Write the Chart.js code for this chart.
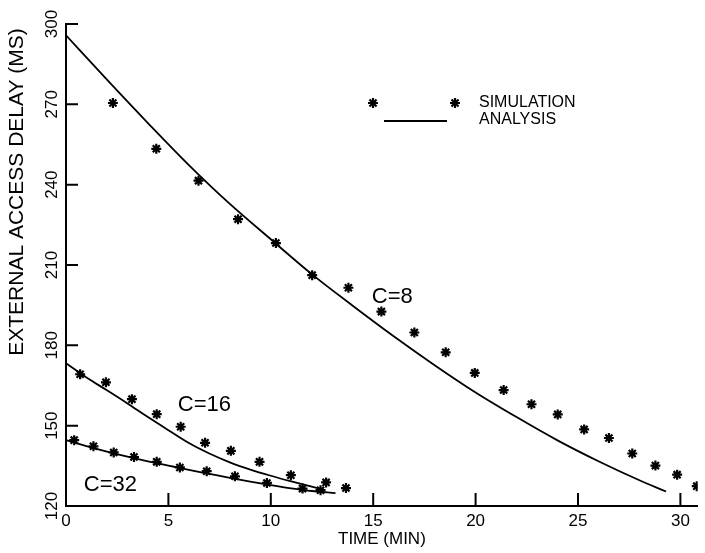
<!DOCTYPE html>
<html>
<head>
<meta charset="utf-8">
<script src="https://cdn.jsdelivr.net/npm/chart.js@4.4.1/dist/chart.umd.min.js"></script>
<style>
    html, body { margin: 0; padding: 0; background: #ffffff; }
    #wrap { width: 705px; height: 553px; }
</style>
</head>
<body>
<div id="wrap"><canvas id="delayChart" width="705" height="553"></canvas></div>
<script>
// axis ticks
const xTicks = [0, 5, 10, 15, 20, 25, 30];
const yTicks = [120, 150, 180, 210, 240, 270, 300];

// simulation points (stars)
const simC8X = [2.29, 4.41, 6.47, 8.4, 10.25, 12.02, 13.79, 15.4, 17.01, 18.54, 19.96, 21.37, 22.73, 24.01, 25.3, 26.51, 27.65, 28.78, 29.84, 30.8];
const simC8Y = [270.5, 253.4, 241.5, 227.1, 218.2, 206.2, 201.5, 192.6, 184.8, 177.4, 169.7, 163.3, 158.0, 154.2, 148.6, 145.4, 139.6, 135.1, 131.7, 127.4];
const simC16X = [0.69, 1.95, 3.22, 4.43, 5.6, 6.79, 8.05, 9.45, 10.98, 12.7, 13.67];
const simC16Y = [169.2, 166.2, 159.9, 154.3, 149.6, 143.6, 140.6, 136.5, 131.5, 128.8, 126.7];
const simC32X = [0.4, 1.34, 2.33, 3.32, 4.43, 5.56, 6.87, 8.25, 9.81, 11.55, 12.43];
const simC32Y = [144.6, 142.3, 140.0, 138.3, 136.5, 134.4, 133.0, 131.1, 128.6, 126.5, 125.9];

// analysis curves
const anaC8X = [0, 2, 4, 6, 8, 10, 12, 14, 16, 18, 20, 22, 24, 26, 28, 29.3];
const anaC8Y = [295.8, 279.2, 263.0, 247.3, 232.8, 219.6, 206.6, 194.8, 183.4, 172.6, 162.4, 153.2, 144.5, 136.7, 129.6, 125.4];
const anaC16X = [0, 1, 2, 3, 4, 5, 6, 7, 8, 9, 10, 11, 12, 12.6];
const anaC16Y = [173.3, 168.0, 163.2, 158.3, 153.2, 148.3, 143.5, 139.6, 136.3, 133.6, 131.3, 129.2, 127.2, 126.0];
const anaC32X = [0, 1, 2, 3, 4, 5, 6, 7, 8, 9, 10, 11, 12, 13.16];
const anaC32Y = [144.6, 142.4, 140.3, 138.4, 136.7, 135.1, 133.5, 132.0, 130.5, 129.1, 127.8, 126.6, 125.6, 124.8];

// curve labels
const curveNames = ['C=8', 'C=16', 'C=32'];
const curveLabelX = [15.93, 6.76, 2.17];
const curveLabelY = [198.0, 157.6, 127.7];

const yTitle = 'EXTERNAL ACCESS DELAY (MS)';
const FONT = '"Liberation Sans", Arial, Helvetica, sans-serif';

function pts(xs, ys) {
    return xs.map((x, i) => ({ x: x, y: ys[i] }));
}

const starStyle = {
    showLine: false,
    pointStyle: 'star',
    pointRadius: 5,
    pointBorderWidth: 2.2,
    pointBorderColor: '#000000',
    pointBackgroundColor: '#000000'
};
const lineStyle = {
    showLine: true,
    pointRadius: 0,
    borderColor: '#000000',
    borderWidth: 1.8,
    cubicInterpolationMode: 'monotone',
    fill: false
};

/* ticks pointing into the plot, y title, curve labels and the legend */
const decorPlugin = {
    id: 'decor',
    afterDatasetsDraw(chart) {
        const ctx = chart.ctx;
        const xs = chart.scales.x;
        const ys = chart.scales.y;
        const area = chart.chartArea;
        ctx.save();
        ctx.strokeStyle = '#000000';
        ctx.lineWidth = 2;
        ctx.beginPath();
        xTicks.forEach(v => {
            const px = xs.getPixelForValue(v);
            ctx.moveTo(px, area.bottom);
            ctx.lineTo(px, area.bottom - 13);
        });
        yTicks.forEach(v => {
            const py = ys.getPixelForValue(v);
            ctx.moveTo(area.left, py);
            ctx.lineTo(area.left + 12, py);
        });
        ctx.stroke();

        ctx.fillStyle = '#000000';

        // y axis title, set high like the original
        ctx.save();
        ctx.translate(17, 192);
        ctx.rotate(-Math.PI / 2);
        ctx.font = '21px ' + FONT;
        ctx.textAlign = 'center';
        ctx.textBaseline = 'middle';
        ctx.fillText(yTitle, 0, 0);
        ctx.restore();

        ctx.font = '22px ' + FONT;
        ctx.textAlign = 'center';
        ctx.textBaseline = 'middle';
        curveNames.forEach((name, i) => {
            ctx.fillText(name, xs.getPixelForValue(curveLabelX[i]), ys.getPixelForValue(curveLabelY[i]));
        });

        // legend
        const lx = area.left + 307;
        const ly = area.top + 79;
        const star = { pointStyle: 'star', radius: 5, rotation: 0, borderWidth: 2.2 };
        ctx.lineWidth = 2.2;
        Chart.helpers.drawPoint(ctx, star, lx, ly);
        Chart.helpers.drawPoint(ctx, star, lx + 82, ly);
        ctx.lineWidth = 1.8;
        ctx.beginPath();
        ctx.moveTo(lx + 11, ly + 18);
        ctx.lineTo(lx + 74, ly + 18);
        ctx.stroke();
        ctx.font = '16px ' + FONT;
        ctx.textAlign = 'left';
        ctx.fillText('SIMULATION', lx + 106, ly);
        ctx.fillText('ANALYSIS', lx + 106, ly + 17);
        ctx.restore();
    }
};

new Chart(document.getElementById('delayChart'), {
    type: 'scatter',
    data: {
        datasets: [
            { label: 'C=8 simulation', data: pts(simC8X, simC8Y), ...starStyle },
            { label: 'C=16 simulation', data: pts(simC16X, simC16Y), ...starStyle },
            { label: 'C=32 simulation', data: pts(simC32X, simC32Y), ...starStyle },
            { label: 'C=8 analysis', data: pts(anaC8X, anaC8Y), ...lineStyle },
            { label: 'C=16 analysis', data: pts(anaC16X, anaC16Y), ...lineStyle },
            { label: 'C=32 analysis', data: pts(anaC32X, anaC32Y), ...lineStyle }
        ]
    },
    options: {
        responsive: false,
        devicePixelRatio: 1,
        animation: false,
        layout: { padding: { top: 24, right: 0, bottom: 0, left: 0 } },
        plugins: {
            legend: { display: false },
            tooltip: { enabled: false }
        },
        scales: {
            x: {
                type: 'linear',
                min: 0,
                max: 30.85,
                afterBuildTicks: s => { s.ticks = xTicks.map(v => ({ value: v })); },
                afterFit: s => { s.height = 47; },
                grid: { display: true, drawOnChartArea: false, drawTicks: false },
                border: { display: true, color: '#000000', width: 2 },
                ticks: {
                    color: '#000000',
                    padding: 5,
                    maxRotation: 0,
                    font: { family: FONT, size: 17 }
                },
                title: {
                    display: true,
                    text: 'TIME (MIN)',
                    color: '#000000',
                    padding: { top: 0, bottom: 3 },
                    font: { family: FONT, size: 17 }
                }
            },
            y: {
                type: 'linear',
                min: 120,
                max: 300,
                afterBuildTicks: s => { s.ticks = yTicks.map(v => ({ value: v })); },
                afterFit: s => { s.width = 66; },
                grid: { display: true, drawOnChartArea: false, drawTicks: false },
                border: { display: true, color: '#000000', width: 2 },
                ticks: {
                    color: '#000000',
                    padding: 0,
                    minRotation: 90,
                    maxRotation: 90,
                    crossAlign: 'center',
                    font: { family: FONT, size: 17 }
                },
                title: { display: false }
            }
        }
    },
    plugins: [decorPlugin]
});
</script>
</body>
</html>
